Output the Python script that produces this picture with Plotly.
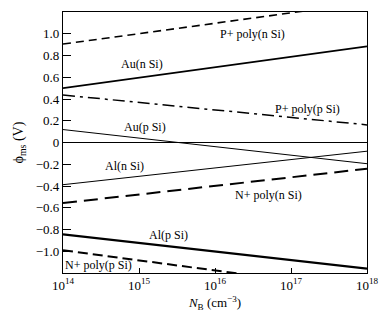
import plotly.graph_objects as go

# Doping concentration endpoints (cm^-3)
N_B = [1e14, 1e18]

# phi_ms (V) at the two ends of each line
series_names = ["P+ poly(n Si)", "Au(n Si)", "P+ poly(p Si)", "Au(p Si)",
                "Al(n Si)", "N+ poly(n Si)", "Al(p Si)", "N+ poly(p Si)"]
p_poly_n = [0.905, 1.288]
au_n = [0.50, 0.884]
p_poly_p = [0.437, 0.162]
au_p = [0.119, -0.195]
al_n = [-0.388, -0.08]
n_poly_n = [-0.557, -0.241]
al_p = [-0.844, -1.159]
n_poly_p = [-0.991, -1.362]

# label positions (log10 N, phi)
label_text = series_names
label_logx = [16.49, 15.04, 17.22, 15.08, 14.81, 16.70, 15.39, 14.47]
label_y = [1.00, 0.72, 0.31, 0.14, -0.22, -0.486, -0.853, -1.128]

ytick_vals = [-1.0, -0.8, -0.6, -0.4, -0.2, 0, 0.2, 0.4, 0.6, 0.8, 1.0]
ytick_text = ["−1.0", "−0.8", "−0.6", "−0.4", "−0.2", "0", "0.2", "0.4", "0.6", "0.8", "1.0"]
xtick_vals = [1e14, 1e15, 1e16, 1e17, 1e18]
xtick_text = ["10<sup>14</sup>", "10<sup>15</sup>", "10<sup>16</sup>", "10<sup>17</sup>", "10<sup>18</sup>"]

styles = [
    (p_poly_n, 1.6, "8px,5px"),
    (au_n, 1.8, "solid"),
    (p_poly_p, 1.5, "12px,5px,3px,5px"),
    (au_p, 1.0, "solid"),
    (al_n, 1.0, "solid"),
    (n_poly_n, 2.0, "14px,7px"),
    (al_p, 2.2, "solid"),
    (n_poly_p, 2.0, "10px,5px"),
]

FONT = "Liberation Serif, Times New Roman, serif"

fig = go.Figure()
for name, (vals, w, dash) in zip(series_names, styles):
    fig.add_trace(go.Scatter(x=N_B, y=vals, mode="lines", name=name,
                             line=dict(color="black", width=w, dash=dash),
                             showlegend=False))

for t, lx, ly in zip(label_text, label_logx, label_y):
    fig.add_annotation(x=lx, y=ly, text=t, showarrow=False,
                       font=dict(family=FONT, size=12, color="black"))

fig.update_layout(
    width=390, height=322,
    margin=dict(l=63, r=19, t=11, b=49),
    paper_bgcolor="white", plot_bgcolor="white",
    font=dict(family=FONT, size=13, color="black"),
)
fig.update_xaxes(type="log", range=[14, 18], tickvals=xtick_vals, ticktext=xtick_text,
                 ticks="inside", ticklen=5, tickcolor="black", showgrid=False,
                 showline=True, linecolor="black", linewidth=1.2, mirror=True,
                 title=dict(text="<i>N</i><sub>B</sub> (cm<sup>−3</sup>)", standoff=6,
                            font=dict(size=13)))
fig.update_yaxes(range=[-1.2, 1.2], tickvals=ytick_vals, ticktext=ytick_text,
                 ticks="inside", ticklen=8, tickcolor="black", showgrid=False,
                 showline=True, linecolor="black", linewidth=1.2, mirror=True,
                 zeroline=True, zerolinecolor="black", zerolinewidth=1,
                 title=dict(text="ϕ<sub>ms</sub> (V)", standoff=8, font=dict(size=14)))

fig.write_html("out.html")
